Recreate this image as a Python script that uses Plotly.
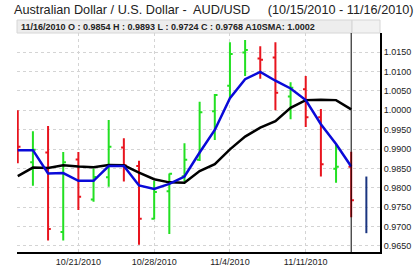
import plotly.graph_objects as go

dates = ["10/15/2010", "10/18/2010", "10/19/2010", "10/20/2010", "10/21/2010", "10/22/2010",
         "10/25/2010", "10/26/2010", "10/27/2010", "10/28/2010", "10/29/2010",
         "11/1/2010", "11/2/2010", "11/3/2010", "11/4/2010", "11/5/2010",
         "11/8/2010", "11/9/2010", "11/10/2010", "11/11/2010", "11/12/2010",
         "11/15/2010", "11/16/2010"]
opens = [0.9950, 0.9866, 0.9891, 0.9686, 0.9873, 0.9770, 0.9827, 0.9904, 0.9856, 0.9720,
         0.9791, 0.9830, 0.9872, 0.9997, 1.0063, 1.0149, 1.0133, 1.0136, 1.0035, 1.0054,
         0.9982, 0.9849, 0.9854]
highs = [1.0000, 0.9946, 0.9959, 0.9892, 0.9892, 0.9850, 0.9975, 0.9928, 0.9870, 0.9818,
         0.9837, 0.9915, 1.0022, 1.0042, 1.0175, 1.0181, 1.0165, 1.0175, 1.0072, 1.0088,
         1.0003, 0.9910, 0.9893]
lows = [0.9863, 0.9805, 0.9664, 0.9664, 0.9743, 0.9764, 0.9803, 0.9816, 0.9653, 0.9719,
        0.9681, 0.9816, 0.9869, 0.9923, 1.0031, 1.0088, 1.0081, 1.0000, 0.9977, 0.9957,
        0.9829, 0.9813, 0.9724]
closes = [0.9906, 0.9898, 0.9694, 0.9866, 0.9777, 0.9828, 0.9906, 0.9858, 0.9720, 0.9789,
          0.9836, 0.9872, 0.9995, 1.0039, 1.0145, 1.0155, 1.0130, 1.0045, 1.0058, 0.9982,
          0.9861, 0.9854, 0.9768]
sma10 = [0.9830, 0.9852, 0.9851, 0.9858, 0.9855, 0.9853, 0.9859, 0.9858, 0.9839, 0.9822,
         0.9814, 0.9813, 0.9843, 0.9861, 0.9899, 0.9932, 0.9955, 0.9972, 1.0006, 1.0026,
         1.0027, 1.0026, 1.0002]
fast_ma = [0.9897, 0.9897, 0.9837, 0.9838, 0.9818, 0.9818, 0.9856, 0.9856, 0.9806, 0.9797,
           0.9810, 0.9829, 0.9891, 0.9949, 1.0031, 1.0080, 1.0099, 1.0076, 1.0056, 1.0026,
           0.9964, 0.9913, 0.9855]
forecast_range = [0.9829, 0.9683]
label_dates = ["10/21/2010", "10/28/2010", "11/4/2010", "11/11/2010"]
y_ticks = [0.9650, 0.9700, 0.9750, 0.9800, 0.9850, 0.9900, 0.9950,
           1.0000, 1.0050, 1.0100, 1.0150]

idx = list(range(len(dates)))
last = len(dates) - 1
tickvals = [dates.index(d) for d in label_dates]

fig = go.Figure()
fig.add_trace(go.Ohlc(
    x=idx, open=opens, high=highs, low=lows, close=closes,
    increasing=dict(line=dict(color="#22e022", width=2)),
    decreasing=dict(line=dict(color="#e8141e", width=2)),
    tickwidth=0.18, hoverinfo="skip", showlegend=False))
fig.add_trace(go.Scatter(x=idx, y=sma10, mode="lines",
                         line=dict(color="#000000", width=2.5),
                         hoverinfo="skip", showlegend=False))
fig.add_trace(go.Scatter(x=idx, y=fast_ma, mode="lines",
                         line=dict(color="#0a0ad8", width=2.5),
                         hoverinfo="skip", showlegend=False))
fig.add_trace(go.Scatter(x=[last + 1, last + 1], y=forecast_range, mode="lines",
                         line=dict(color="#1a3580", width=2),
                         hoverinfo="skip", showlegend=False))

fig.add_shape(type="line", xref="x", yref="paper", x0=last, x1=last, y0=0, y1=1,
              line=dict(color="#000000", width=1))

# info bar
hb = 13 / 219
fig.add_shape(type="rect", xref="paper", yref="paper", x0=0, x1=0.923, y0=1, y1=1 + hb,
              fillcolor="#ededed", line=dict(color="#d6d6d6", width=1), layer="below")
fig.add_shape(type="rect", xref="paper", yref="paper", x0=0.923, x1=1, y0=1, y1=1 + hb,
              fillcolor="#f2f2f2", line=dict(color="#d6d6d6", width=1), layer="below")
info = "%s O : %.4f H : %.4f L : %.4f C : %.4f A10SMA: %.4f" % (
    dates[last], opens[last], highs[last], lows[last], closes[last], sma10[last])
fig.add_annotation(text="<b>" + info + "</b>", xref="paper", yref="paper",
                   x=0.005, y=1 + hb / 2, xanchor="left", yanchor="middle",
                   showarrow=False, font=dict(size=9, color="#222222",
                                              family="Liberation Sans, Arial"))

fig.update_layout(
    width=414, height=266,
    margin=dict(l=17, r=34, t=33, b=14, autoexpand=False),
    paper_bgcolor="white", plot_bgcolor="white",
    title=dict(text="Australian Dollar / U.S. Dollar -  AUD/USD     (10/15/2010 - 11/16/2010)",
               x=14 / 414, xanchor="left", y=1 - 10 / 266, yanchor="middle",
               font=dict(size=12.7, color="#222222", family="Liberation Sans, Arial")),
    font=dict(family="Liberation Sans, Arial", size=9, color="#222222"),
    xaxis=dict(range=[-0.05, last + 1.9], tickvals=tickvals,
               ticktext=[dates[i] for i in tickvals], showgrid=True,
               gridcolor="#d4d4d4", griddash="dot", gridwidth=1,
               showline=True, linecolor="#000000", linewidth=2,
               ticks="", rangeslider=dict(visible=False), zeroline=False,
               tickfont=dict(size=9), automargin=False),
    yaxis=dict(range=[0.96345, 1.0199], side="right", tickvals=y_ticks,
               tickformat=".4f", showgrid=True, gridcolor="#d4d4d4", griddash="dot",
               gridwidth=1, showline=True, linecolor="#000000", linewidth=2,
               ticks="", zeroline=False, tickfont=dict(size=9), automargin=False),
)

fig.write_html("out.html")
